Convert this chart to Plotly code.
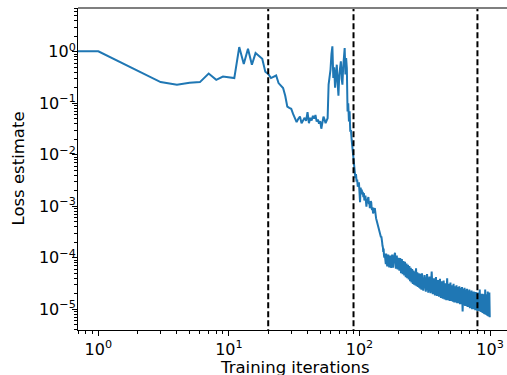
import plotly.graph_objects as go

# ---------------- data ----------------
# iteration 0 sits at x=0, which a log axis cannot show; it is drawn clipped
# far to the left like matplotlib does.
warmup_iters = [0, 1, 3, 4, 5, 6, 7, 8, 9, 10, 11, 12, 13, 14, 15, 16, 17, 18, 19]
warmup_loss = [1.02, 1.02, 0.257, 0.228, 0.249, 0.257, 0.378, 0.285, 0.33, 0.32,
               0.308, 1.23, 0.576, 1.14, 0.56, 0.94, 0.81, 0.73, 0.41]

phase2_iters = list(range(20, 90))
phase2_loss = [0.37, 0.308, 0.33, 0.345, 0.246, 0.218, 0.197, 0.139, 0.086, 0.081,
               0.078, 0.062, 0.051, 0.043, 0.05, 0.055, 0.041, 0.048, 0.052, 0.0455,
               0.067, 0.041, 0.052, 0.046, 0.057, 0.05, 0.059, 0.044, 0.048, 0.04,
               0.045, 0.032, 0.045, 0.055, 0.048, 0.041, 0.046, 0.051, 0.23, 0.31,
               0.45, 0.9, 1.27, 0.31, 0.5, 0.2, 0.4, 0.56, 0.25, 0.14,
               0.35, 0.6, 0.65, 0.3, 0.23, 0.5, 0.8, 1.18, 0.36, 0.75,
               0.48, 0.069, 0.1, 0.044, 0.07, 0.028, 0.03, 0.02, 0.014, 0.011]

phase3_iters = list(range(90, 160))
phase3_loss = [9.2e-3, 6.0e-3, 4.4e-3, 3.5e-3, 4.2e-3, 3.0e-3, 3.3e-3, 2.4e-3, 2.6e-3, 2.9e-3,
               1.9e-3, 1.2e-3, 2.3e-3, 1.9e-3, 2.1e-3, 1.7e-3, 1.9e-3, 1.5e-3, 1.8e-3, 1.3e-3,
               1.4e-3, 1.6e-3, 1.1e-3, 9.8e-4, 1.3e-3, 1.2e-3, 1.4e-3, 1.5e-3, 1.1e-3, 1.2e-3,
               9.2e-4, 1.1e-3, 1.25e-3, 1.18e-3, 9.0e-4, 8.5e-4, 9.5e-4, 7.2e-4, 8.0e-4, 9.0e-4,
               8.5e-4, 9.2e-4, 7.0e-4, 6.2e-4, 5.8e-4, 5.4e-4, 5.0e-4, 4.5e-4, 4.2e-4, 3.9e-4,
               3.6e-4, 3.4e-4, 3.1e-4, 3.0e-4, 2.8e-4, 2.7e-4, 2.5e-4, 2.6e-4, 2.4e-4, 2.0e-4,
               1.7e-4, 1.6e-4, 1.3e-4, 1.5e-4, 1.1e-4, 1.0e-4, 1.2e-4, 8.9e-5, 9.5e-5, 7.5e-5]

phase4_iters = list(range(160, 299, 3))
phase4_loss = [1.2e-4, 6.8e-5, 1.15e-4, 6.5e-5, 1.1e-4, 6.3e-5, 1.15e-4, 6.4e-5, 1.05e-4, 1.25e-4,
               6.1e-5, 1.1e-4, 5.9e-5, 1.0e-4, 5.6e-5, 9.8e-5, 5.0e-5, 9.4e-5, 4.8e-5, 8.6e-5,
               4.5e-5, 8.3e-5, 4.2e-5, 7.7e-5, 4.0e-5, 7.3e-5, 3.8e-5, 6.9e-5, 3.5e-5, 6.4e-5,
               3.3e-5, 6.0e-5, 3.1e-5, 5.6e-5, 3.0e-5, 5.4e-5, 2.9e-5, 6.2e-5, 2.8e-5, 5.2e-5,
               2.7e-5, 5.0e-5, 2.6e-5, 4.9e-5, 2.5e-5, 4.8e-5, 2.4e-5]

phase5_iters = list(range(301, 995, 7))
phase5_loss = [5.0e-5, 2.3e-5, 4.6e-5, 2.2e-5, 4.8e-5, 2.1e-5, 4.3e-5, 2.05e-5, 5.4e-5, 1.95e-5,
               4.0e-5, 1.85e-5, 4.2e-5, 1.8e-5, 3.7e-5, 1.75e-5, 3.9e-5, 1.65e-5, 3.5e-5, 1.6e-5,
               3.6e-5, 1.55e-5, 3.2e-5, 1.5e-5, 4.0e-5, 1.5e-5, 3.1e-5, 1.45e-5, 3.3e-5, 1.45e-5,
               2.9e-5, 1.4e-5, 3.1e-5, 1.35e-5, 2.8e-5, 1.35e-5, 2.9e-5, 1.3e-5, 2.7e-5, 1.3e-5,
               2.8e-5, 1.25e-5, 2.6e-5, 1.25e-5, 2.7e-5, 9.0e-6, 2.5e-5, 1.2e-5, 2.6e-5, 1.15e-5,
               2.4e-5, 1.15e-5, 2.5e-5, 1.1e-5, 2.3e-5, 1.1e-5, 2.4e-5, 1.05e-5, 2.2e-5, 1.05e-5,
               2.3e-5, 1.0e-5, 2.15e-5, 1.0e-5, 2.2e-5, 1.0e-5, 2.1e-5, 9.6e-6, 2.15e-5, 9.6e-6,
               2.05e-5, 9.2e-6, 2.1e-5, 9.2e-6, 2.0e-5, 9.2e-6, 2.4e-5, 9.0e-6, 2.0e-5, 8.8e-6,
               1.95e-5, 8.6e-6, 2.0e-5, 8.4e-6, 1.95e-5, 8.2e-6, 1.9e-5, 8.0e-6, 2.4e-5, 7.9e-6,
               1.9e-5, 7.7e-6, 1.95e-5, 7.5e-6, 2.2e-5, 7.3e-6, 2.0e-5, 7.2e-6, 2.1e-5, 7.0e-6]

phase_boundaries = [20, 90, 800]

x_tick_vals = [1, 10, 100, 1000]
x_tick_text = ["10<sup>0</sup>", "10<sup>1</sup>", "10<sup>2</sup>", "10<sup>3</sup>"]
y_tick_vals = [1, 1e-1, 1e-2, 1e-3, 1e-4, 1e-5]
y_tick_text = ["10<sup>0</sup>", "10<sup>\u22121</sup>", "10<sup>\u22122</sup>",
               "10<sup>\u22123</sup>", "10<sup>\u22124</sup>", "10<sup>\u22125</sup>"]

x_label = "Training iterations"
y_label = "Loss estimate"

# ---------------- build ----------------
iters = warmup_iters + phase2_iters + phase3_iters + phase4_iters + phase5_iters
loss = warmup_loss + phase2_loss + phase3_loss + phase4_loss + phase5_loss
# matplotlib clips non-positive values on a log axis; mimic that
x_plot = [it if it > 0 else 1e-3 for it in iters]

FONT = "DejaVu Sans"
TICK_SIZE = 16
TITLE_SIZE = 16.5
fig = go.Figure()
fig.add_trace(go.Scatter(x=x_plot, y=loss, mode="lines",
                         line=dict(color="#1f77b4", width=2), hoverinfo="skip"))
for b in phase_boundaries:
    fig.add_trace(go.Scatter(x=[b, b], y=[1e-9, 1e3], mode="lines",
                             line=dict(color="black", width=2, dash="6px,3px"),
                             hoverinfo="skip"))

minor_x = [m * d for d in [0.1, 1, 10, 100, 1000] for m in range(2, 10)]
minor_y = [m * d for d in [1e-6, 1e-5, 1e-4, 1e-3, 1e-2, 1e-1, 1] for m in range(2, 10)]

fig.update_layout(
    width=507, height=375,
    margin=dict(l=78, r=0, t=8, b=45),
    paper_bgcolor="white", plot_bgcolor="white",
    showlegend=False,
    font=dict(family=FONT, size=TICK_SIZE, color="black"),
    xaxis=dict(type="log", range=[-0.1554, 3.1294], showgrid=False, zeroline=False,
               showline=True, linecolor="black", linewidth=1,
               ticks="outside", ticklen=5, tickwidth=1, tickcolor="black",
               tickmode="array", tickvals=x_tick_vals, ticktext=x_tick_text,
               tickfont=dict(family=FONT, size=TICK_SIZE, color="black"),
               minor=dict(tickmode="array", tickvals=minor_x, ticks="outside",
                          ticklen=3, tickwidth=1, tickcolor="black", showgrid=False)),
    yaxis=dict(type="log", range=[-5.404, 0.849], showgrid=False, zeroline=False,
               showline=True, linecolor="black", linewidth=1,
               ticks="outside", ticklen=5, tickwidth=1, tickcolor="black",
               ticklabelstandoff=-7,
               tickmode="array", tickvals=y_tick_vals, ticktext=y_tick_text,
               tickfont=dict(family=FONT, size=TICK_SIZE, color="black"),
               minor=dict(tickmode="array", tickvals=minor_y, ticks="outside",
                          ticklen=3, tickwidth=1, tickcolor="black", showgrid=False)),
    shapes=[dict(type="line", xref="paper", yref="paper", x0=0, x1=1, y0=1, y1=1,
                 line=dict(color="#7f7f7f", width=2))],
    annotations=[
        dict(text=x_label, xref="paper", yref="paper", x=0.5047, y=0,
             xanchor="center", yanchor="top", yshift=-26, showarrow=False,
             font=dict(family=FONT, size=TITLE_SIZE, color="black")),
        dict(text=y_label, xref="paper", yref="paper", x=0, y=0.5,
             xanchor="center", yanchor="middle", xshift=-60.5, textangle=-90,
             showarrow=False, font=dict(family=FONT, size=TITLE_SIZE, color="black")),
    ],
)

fig.write_html("out.html")
